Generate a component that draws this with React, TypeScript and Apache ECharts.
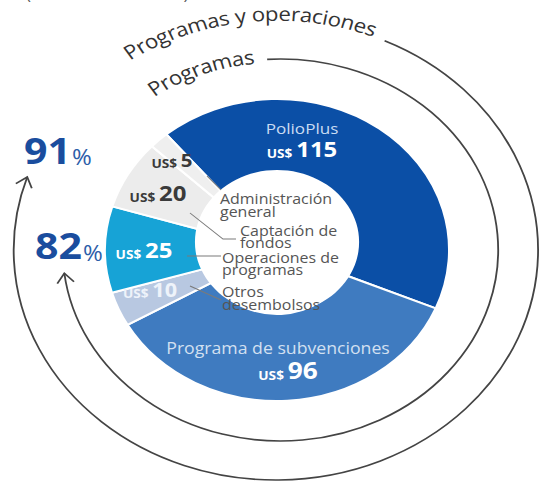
import React, { useEffect, useRef } from 'react';
import * as echarts from 'echarts';

// ---- data ----
const categories = [
  'PolioPlus',
  'Programa de subvenciones',
  'Otros desembolsos',
  'Operaciones de programas',
  'Captación de fondos',
  'Administración general',
];
const values = [115, 96, 10, 25, 20, 5];
const sliceColors = ['#0b4fa6', '#3f7bc0', '#b8c8e1', '#17a3d6', '#ececec', '#efefef'];
const currency = 'US$';
const holeLabels = ['Administración\ngeneral', 'Captación de\nfondos', 'Operaciones de\nprogramas', 'Otros\ndesembolsos'];
const holeLabelIndex = [5, 4, 3, 2];
const percentValues = [91, 82];
const arcTitles = ['Programas y operaciones', 'Programas'];
const unitNote = '(en millones de US$)';

// ---- layout ----
const SX = 1.14;
const W = Math.round(540 / SX);
const H = 481;
const CX = 243;
const CY = 250;
const FONT = '"Open Sans", "Noto Sans", sans-serif';
const ux = (x: number) => x / SX;

function richValue(v: number, fsS: number, fsB: number, color: string) {
  const hS = 2 * (0.215 * fsB + 0.285 * fsS);
  return {
    text: `{u|${currency}} {v|${v}}`,
    rich: {
      u: { fontSize: fsS, fontWeight: 'bold', fontFamily: FONT, fill: color, lineHeight: hS, verticalAlign: 'bottom' },
      v: { fontSize: fsB, fontWeight: 'bold', fontFamily: FONT, fill: color, lineHeight: fsB, verticalAlign: 'bottom' },
    },
  };
}

function arcText(str: string, r: number, midDeg: number, fs: number, color: string) {
  const ctx = document.createElement('canvas').getContext('2d')!;
  ctx.font = `${fs}px "Open Sans"`;
  const chars = Array.from(str);
  const widths = chars.map((c) => ctx.measureText(c).width);
  const total = widths.reduce((a, b) => a + b, 0);
  const phi0 = (midDeg * Math.PI) / 180 + total / r / 2;
  let acc = 0;
  const els: any[] = [];
  chars.forEach((ch, i) => {
    const s = acc + widths[i] / 2;
    acc += widths[i];
    if (ch === ' ') return;
    const phi = phi0 - s / r;
    els.push({
      type: 'text',
      x: CX + r * Math.cos(phi),
      y: CY - r * Math.sin(phi),
      rotation: phi - Math.PI / 2,
      z: 100,
      silent: true,
      style: { text: ch, fill: color, fontSize: fs, fontFamily: FONT, align: 'center', verticalAlign: 'middle' },
    });
  });
  return els;
}

function arrowArc(cx: number, r: number, startMath: number, endMath: number) {
  const d2r = Math.PI / 180;
  const sA = -startMath * d2r;
  let eA = -endMath * d2r;
  while (eA < sA) eA += Math.PI * 2;
  const tip = [cx + r * Math.cos(eA), CY + r * Math.sin(eA)];
  const dir = [-Math.sin(eA), Math.cos(eA)];
  const L = 12;
  const a = 38 * d2r;
  const rot = (v: number[], t: number) => [v[0] * Math.cos(t) - v[1] * Math.sin(t), v[0] * Math.sin(t) + v[1] * Math.cos(t)];
  const p1 = rot(dir, a);
  const p2 = rot(dir, -a);
  return [
    {
      type: 'arc',
      z: 100,
      silent: true,
      shape: { cx, cy: CY, r, startAngle: sA, endAngle: eA, clockwise: true },
      style: { stroke: '#444', lineWidth: 1.6, fill: null },
    },
    {
      type: 'polyline',
      z: 100,
      silent: true,
      shape: { points: [[tip[0] - L * p1[0], tip[1] - L * p1[1]], tip, [tip[0] - L * p2[0], tip[1] - L * p2[1]]] },
      style: { stroke: '#444', lineWidth: 1.6, fill: null },
    },
  ];
}

// slice label positions (reference px, centre)
const valuePos: number[][] = [
  [302, 149],
  [288, 370],
  [150, 290],
  [144, 250],
  [158, 193],
  [172, 160],
];
const valueColors = ['#ffffff', '#ffffff', '#eef3fa', '#ffffff', '#3a3a3a', '#3a3a3a'];
const valueSizes = [21, 23, 19, 21, 21, 18];
const holePos: number[][] = [
  [220, 192],
  [240, 223.5],
  [222, 250.5],
  [222, 285],
];
const leaders: number[][][] = [
  [[207, 176], [221, 190]],
  [[190, 213], [223, 239], [236, 239]],
  [[187, 256], [221, 256]],
  [[190, 286], [221, 300]],
];

export default function App() {
  const ref = useRef<HTMLDivElement>(null);
  useEffect(() => {
    const chart = echarts.init(ref.current!, null, { renderer: 'svg', width: W, height: H });
    const graphics: any[] = [];
    graphics.push({ type: 'circle', z: 50, silent: true, shape: { cx: CX, cy: 242, r: 72 }, style: { fill: '#ffffff' } });

    // slice names
    graphics.push({
      type: 'text', z: 100, silent: true, x: ux(302), y: 128,
      style: { text: categories[0], fill: '#c9dcf3', fontSize: 15, fontFamily: FONT, align: 'center', verticalAlign: 'middle' },
    });
    graphics.push({
      type: 'text', z: 100, silent: true, x: ux(278), y: 348,
      style: { text: categories[1], fill: '#d3e0f1', fontSize: 15.5, fontFamily: FONT, align: 'center', verticalAlign: 'middle' },
    });
    values.forEach((v, i) => {
      const rv = richValue(v, 12, valueSizes[i], valueColors[i]);
      graphics.push({
        type: 'text', z: 100, silent: true, x: ux(valuePos[i][0]), y: valuePos[i][1],
        style: { ...rv, align: 'center', verticalAlign: 'middle' },
      });
    });
    holeLabels.forEach((t, k) => {
      graphics.push({
        type: 'text', z: 100, silent: true, x: ux(holePos[k][0]), y: holePos[k][1],
        style: { text: t, fill: '#555555', fontSize: 14, lineHeight: 12.8, fontFamily: FONT, align: 'left', verticalAlign: 'top' },
      });
    });
    leaders.forEach((pts) => {
      graphics.push({
        type: 'polyline', z: 100, silent: true,
        shape: { points: pts.map((p) => [ux(p[0]), p[1]]) },
        style: { stroke: '#7a7a7a', lineWidth: 1, fill: null },
      });
    });

    // percentages
    const pctPos = [[24, 149.7], [35, 245.5]];
    percentValues.forEach((p, i) => {
      const fsB = 36, fsS = 21;
      graphics.push({
        type: 'text', z: 100, silent: true, x: ux(pctPos[i][0]), y: pctPos[i][1],
        style: {
          text: `{a|${p}}{b|%}`,
          align: 'left',
          verticalAlign: 'middle',
          rich: {
            a: { fontSize: fsB, fontWeight: 'bold', fontFamily: FONT, fill: '#1a4d9e', lineHeight: fsB, verticalAlign: 'bottom' },
            b: { fontSize: fsS, fontFamily: FONT, fill: '#2d5ea9', lineHeight: 2 * (0.215 * fsB + 0.285 * fsS), verticalAlign: 'bottom', padding: [0, 0, 0, 1] },
          },
        },
      });
    });

    // arcs with arrows
    graphics.push(...arrowArc(242, 230, 65.5, 161.5));
    graphics.push(...arrowArc(246, 191, 93.5, 187));
    graphics.push(...arcText(arcTitles[0], 236.6, 96.3, 19.5, '#333333'));
    graphics.push(...arcText(arcTitles[1], 194.6, 110.5, 19.5, '#333333'));

    graphics.push({
      type: 'text', z: 100, silent: true, x: ux(26), y: -7,
      style: { text: unitNote, fill: '#555555', fontSize: 15, fontFamily: FONT, align: 'left', verticalAlign: 'middle' },
    });

    chart.setOption({
      animation: false,
      backgroundColor: '#ffffff',
      series: [
        {
          type: 'pie',
          silent: true,
          center: [CX, CY],
          radius: [64, 151],
          startAngle: 130,
          clockwise: true,
          label: { show: false },
          labelLine: { show: false },
          emphasis: { disabled: true },
          itemStyle: { borderColor: '#ffffff', borderWidth: 2 },
          data: categories.map((n, i) => ({ name: n, value: values[i], itemStyle: { color: sliceColors[i] } })),
        },
      ],
      graphic: { elements: graphics },
    });
    return () => chart.dispose();
  }, []);
  return (
    <div style={{ position: 'fixed', left: 0, top: 0, width: 540, height: 481, overflow: 'hidden', background: '#fff' }}>
      <div ref={ref} style={{ width: W, height: H, transform: `scaleX(${SX})`, transformOrigin: '0 0' }} />
    </div>
  );
}
